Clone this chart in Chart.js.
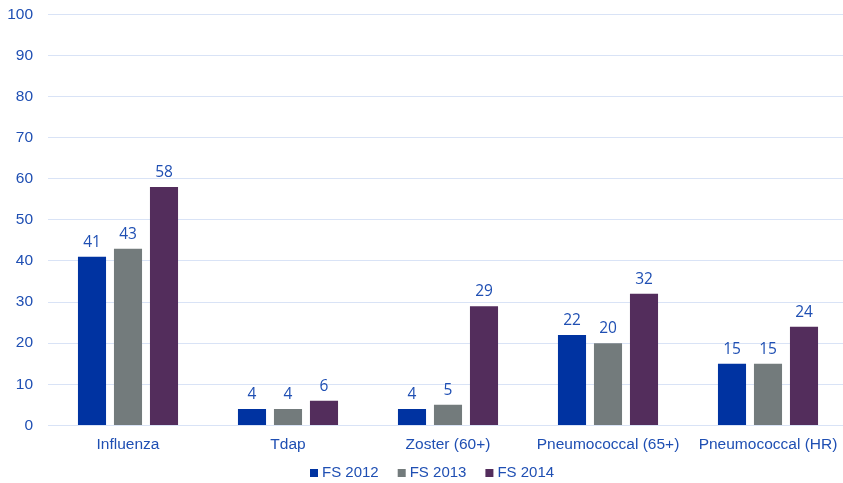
<!DOCTYPE html>
<html>
<head>
<meta charset="utf-8">
<script src="https://cdn.jsdelivr.net/npm/chart.js@4"></script>
<style>
  html, body { margin: 0; padding: 0; background: #fff; overflow: hidden; }
  #wrap { width: 850px; height: 483px; overflow: hidden; }
  #chart { display: block; margin-top: -10px; }
</style>
</head>
<body>
<div id="wrap"><canvas id="chart" width="850" height="493"></canvas></div>
<script>
const categories = ["Influenza", "Tdap", "Zoster (60+)", "Pneumococcal (65+)", "Pneumococcal (HR)"];
const fs2012 = [41, 4, 4, 22, 15];
const fs2013 = [43, 4, 5, 20, 15];
const fs2014 = [58, 6, 29, 32, 24];
const seriesNames = ["FS 2012", "FS 2013", "FS 2014"];
const seriesColors = ["#0033A1", "#737B7C", "#532D5C"];

const textBlue = "#1F4FB3";
const axisFont = "'Liberation Sans', Arial";

// number above each bar
const barLabels = {
  id: "barLabels",
  afterDatasetsDraw(chart) {
    const c = chart.ctx;
    c.save();
    c.fillStyle = textBlue;
    c.font = "15.5px 'Open Sans'";
    c.textAlign = "center";
    c.textBaseline = "alphabetic";
    chart.data.datasets.forEach((ds, i) => {
      chart.getDatasetMeta(i).data.forEach((bar, j) => {
        c.fillText(ds.data[j], bar.x, bar.y - 10);
      });
    });
    c.restore();
  }
};

// small square legend under the axis
const squareLegend = {
  id: "squareLegend",
  afterDraw(chart) {
    const c = chart.ctx;
    c.save();
    c.font = "15px " + axisFont;
    c.textBaseline = "middle";
    let x = 310;
    const y = 483;
    chart.data.datasets.forEach((ds) => {
      c.fillStyle = ds.backgroundColor;
      c.fillRect(x, y - 4, 8, 8);
      c.fillStyle = textBlue;
      c.fillText(ds.label, x + 12, y);
      x += 12 + c.measureText(ds.label).width + 19;
    });
    c.restore();
  }
};

new Chart(document.getElementById("chart"), {
  type: "bar",
  data: {
    labels: categories,
    datasets: [
      { label: seriesNames[0], data: fs2012, backgroundColor: seriesColors[0] },
      { label: seriesNames[1], data: fs2013, backgroundColor: seriesColors[1] },
      { label: seriesNames[2], data: fs2014, backgroundColor: seriesColors[2] }
    ]
  },
  options: {
    responsive: false,
    animation: false,
    categoryPercentage: 0.675,
    barPercentage: 0.78,
    layout: { padding: { top: 0, right: 2, bottom: 19, left: 0 } },
    scales: {
      x: {
        grid: { display: false, drawTicks: false },
        border: { display: false },
        ticks: { color: textBlue, font: { family: axisFont, size: 15.5 }, padding: 10 }
      },
      y: {
        min: 0,
        max: 100,
        afterFit(scale) { scale.width = 48; },
        grid: { color: "#D9E3F6", lineWidth: 1, drawTicks: false },
        border: { display: false },
        ticks: { stepSize: 10, color: textBlue, font: { family: axisFont, size: 15.5 }, padding: 15 }
      }
    },
    plugins: {
      tooltip: { enabled: false },
      legend: { display: false }
    }
  },
  plugins: [barLabels, squareLegend]
});
</script>
</body>
</html>
